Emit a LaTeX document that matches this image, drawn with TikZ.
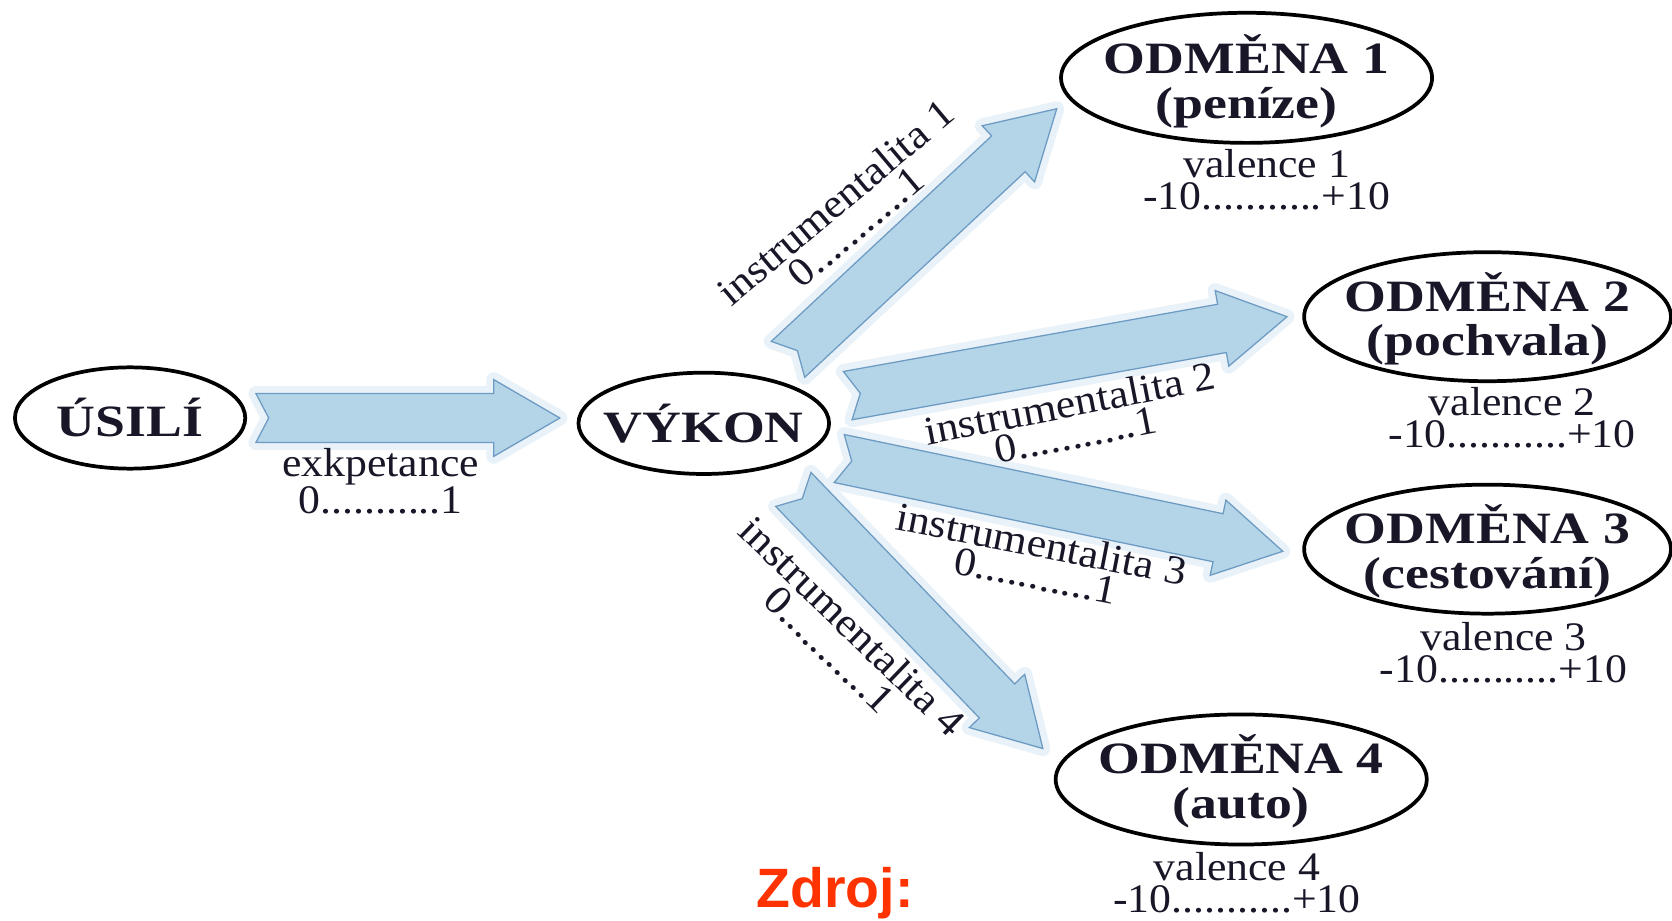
\documentclass[tikz,border=0pt]{standalone}
\usepackage{fontspec}
\setmainfont{Liberation Serif}
\setsansfont{Liberation Sans}
\newfontfamily\bwfont[FakeStretch=1.2]{Liberation Serif}
\newfontfamily\rgfont[FakeStretch=1.08]{Liberation Serif}
\usetikzlibrary{shapes.geometric,calc}
\definecolor{arrfill}{RGB}{180,213,232}
\definecolor{arredge}{RGB}{110,155,195}
\definecolor{zdroj}{RGB}{255,51,0}
\definecolor{inkc}{RGB}{25,22,40}
\tikzset{
  oval/.style={ellipse, draw=black, line width=3.5pt, fill=white, inner sep=0pt},
  ovaltext/.style={align=center, inner sep=0pt, text=inkc, font=\bwfont\bfseries\fontsize{42}{42}\selectfont},
  lbl/.style={align=center, inner sep=0pt, text=inkc, font=\rgfont\fontsize{38}{30}\selectfont},
  barrow/.style={draw=arredge, fill=arrfill, line width=1.2pt, line join=miter,
    preaction={draw=arrfill!30, line width=14pt, line join=round}},
}
\newcommand\blockarrow[2]{%
  \path[barrow] let \p1=($(#2)-(#1)$), \n1={atan2(\y1,\x1)}, \n2={veclen(\x1,\y1)} in
    [shift={(#1)}, rotate=\n1]
    (0,23) -- (\n2-62,23) -- (\n2-62,36) -- (\n2,0) -- (\n2-62,-36) -- (\n2-62,-23) -- (0,-23) -- (12,0) -- cycle;}
\begin{document}
\begin{tikzpicture}[x=1pt,y=1pt]
\fill[white] (0,0) rectangle (1568,863);
\useasboundingbox (0,0) rectangle (1568,863);
% arrow end points
\coordinate (eT) at (240,471);  \coordinate (eH) at (525,471);
\coordinate (aT1) at (739,526); \coordinate (aH1) at (991,761);
\coordinate (aT2) at (795,492); \coordinate (aH2) at (1207,566);
\coordinate (aT3) at (787,433); \coordinate (aH3) at (1203,346);
\coordinate (aT4) at (744,404); \coordinate (aH4) at (978,161);
\blockarrow{eT}{eH}
\blockarrow{aT1}{aH1}
\blockarrow{aT2}{aH2}
\blockarrow{aT3}{aH3}
\blockarrow{aT4}{aH4}
% ovals
\node[oval, minimum width=216pt, minimum height=95pt] (usili) at (122,471) {};
\node[ovaltext] (usilit) at (usili.center) {ÚSILÍ};
\node[oval, minimum width=235pt, minimum height=95pt] (vykon) at (660,466) {};
\node[ovaltext] (vykont) at (vykon.center) {VÝKON};
\node[oval, minimum width=348pt, minimum height=122pt] (o1) at (1169,790) {};
\node[ovaltext] (o1t) at ([yshift=-3pt]o1.center) {ODMĚNA 1\\(peníze)};
\node[oval, minimum width=344pt, minimum height=121pt] (o2) at (1395,566) {};
\node[ovaltext] (o2t) at ([yshift=-2pt]o2.center) {ODMĚNA 2\\(pochvala)};
\node[oval, minimum width=344pt, minimum height=121pt] (o3) at (1395,348) {};
\node[ovaltext] (o3t) at ([yshift=-2pt]o3.center) {ODMĚNA 3\\(cestování)};
\node[oval, minimum width=348pt, minimum height=122pt] (o4) at (1164,132) {};
\node[ovaltext] (o4t) at ([yshift=-2pt]o4.center) {ODMĚNA 4\\(auto)};
% valence labels
\node[lbl] (v1) at (1188,694) {valence 1\\-10...........+10};
\node[lbl] (v2) at (1418,471) {valence 2\\-10...........+10};
\node[lbl] (v3) at (1410,251) {valence 3\\-10...........+10};
\node[lbl] (v4) at (1160,35) {valence 4\\-10...........+10};
% arrow labels
\node[lbl] (ek) at (357,412) {exkpetance\\0...........1};
\node[lbl, rotate=40] (i1) at (793,662) {instrumentalita 1\\0...........1};
\node[lbl, rotate=11] (i2) at (1006,470) {instrumentalita 2\\0...........1};
\node[lbl, rotate=-11] (i3) at (974,338) {instrumentalita 3\\0...........1};
\node[lbl, rotate=-44] (i4) at (789,265) {instrumentalita 4\\0...........1};
% source
\node[anchor=base, inner sep=0pt, text=zdroj, font=\sffamily\bfseries\fontsize{52}{52}\selectfont] (zd) at (783,12) {Zdroj:};
\end{tikzpicture}
\end{document}
